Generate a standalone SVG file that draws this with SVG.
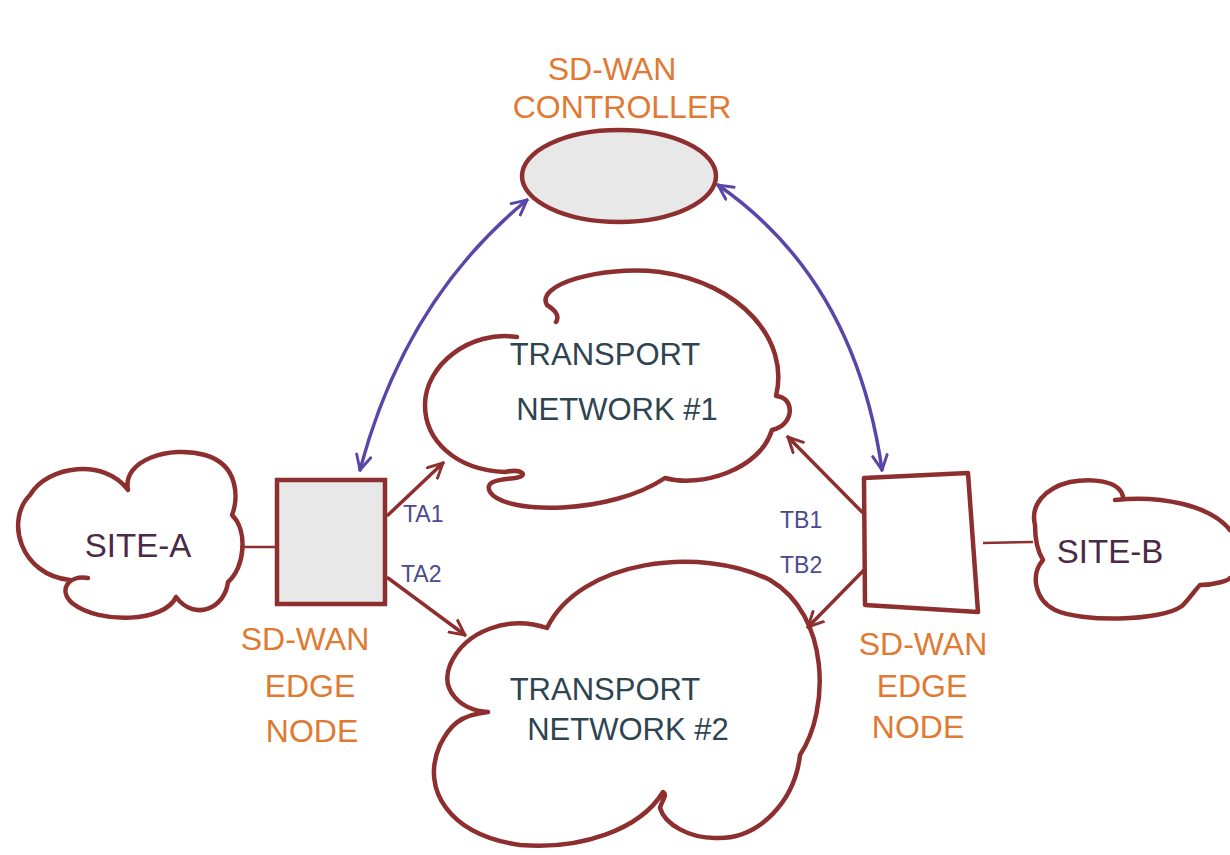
<svg xmlns="http://www.w3.org/2000/svg" width="1230" height="855" viewBox="0 0 1230 855">
<style>
.shape{fill:none;stroke:#8e2f2f;stroke-width:4.5;stroke-linecap:round;stroke-linejoin:round}
.red{fill:none;stroke:#8e2f2f;stroke-width:3.5;stroke-linecap:round}
.thin{fill:none;stroke:#8e2f2f;stroke-width:2.5}
.blue{fill:none;stroke:#5a45a8;stroke-width:3.5;stroke-linecap:round}
.orange{font-family:"Liberation Sans",sans-serif;font-size:32px;fill:#e07a33;text-anchor:middle}
.net{font-family:"Liberation Sans",sans-serif;font-size:31px;fill:#2e4450;text-anchor:middle}
.site{font-family:"Liberation Sans",sans-serif;font-size:33px;fill:#4a2a45;text-anchor:middle}
.lbl{font-family:"Liberation Sans",sans-serif;font-size:23px;fill:#4b4a8c}
</style>
<defs>
<marker id="ar" viewBox="0 0 12 12" refX="11" refY="6" markerWidth="5" markerHeight="5" orient="auto-start-reverse" markerUnits="strokeWidth">
<path d="M1,1 L11,6 L1,11" fill="none" stroke="#8e2f2f" stroke-width="2" stroke-linecap="round"/>
</marker>
<marker id="ab" viewBox="0 0 12 12" refX="11" refY="6" markerWidth="5" markerHeight="5" orient="auto-start-reverse" markerUnits="strokeWidth">
<path d="M1,1 L11,6 L1,11" fill="none" stroke="#5a45a8" stroke-width="2" stroke-linecap="round"/>
</marker>
</defs>
<rect width="1230" height="855" fill="#ffffff"/>

<g id="controller">
<text class="orange" x="612" y="80" font-size="38">SD-WAN</text>
<text class="orange" x="622" y="118" font-size="36">CONTROLLER</text>
<ellipse cx="619" cy="176" rx="97" ry="46" fill="#e8e8e8" stroke="#8e2f2f" stroke-width="4.5"/>
</g>

<g id="transport1">
<path class="shape" d="M517,337 C470,330 425,365 425,405 C425,440 455,470 505,472 C522,468 530,476 515,478 C495,480 485,482 490,492 C505,515 610,515 665,478 C700,488 760,470 772,430 C795,425 795,397 776,396 C790,340 740,283 660,272 C600,265 535,285 547,305 C555,310 560,316 556,322"/>
<text class="net" x="605" y="365">TRANSPORT</text>
<text class="net" x="617" y="420">NETWORK #1</text>
</g>

<g id="transport2">
<path class="shape" d="M547,628 C580,560 700,545 770,580 C830,615 830,710 800,755 C795,800 760,840 715,838 C690,838 665,825 660,808 C662,800 668,795 663,792 C640,830 580,850 520,845 C450,835 420,790 440,745 C450,725 460,715 488,712 C460,710 440,690 450,665 C465,630 510,615 547,628"/>
<text class="net" x="605" y="700">TRANSPORT</text>
<text class="net" x="628" y="740">NETWORK #2</text>
</g>

<g id="site-a">
<path class="shape" d="M70,580 C20,575 5,520 30,495 C48,465 105,458 128,490 C122,460 170,445 205,455 C240,465 238,500 232,515 C248,530 245,568 228,582 C225,608 195,622 176,597 C165,622 100,625 72,603 C58,590 68,575 88,578"/>
<text class="site" x="138" y="557">SITE-A</text>
</g>

<g id="edge-a">
<rect x="277" y="480" width="108" height="124" fill="#e8e8e8" stroke="#8e2f2f" stroke-width="4.5"/>
<text class="orange" x="305" y="650">SD-WAN</text>
<text class="orange" x="310" y="697">EDGE</text>
<text class="orange" x="312" y="742">NODE</text>
</g>

<g id="edge-b">
<path d="M864,478 L968,473 L978,612 L865,605 Z" fill="#ffffff" stroke="#8e2f2f" stroke-width="4.5" stroke-linejoin="round"/>
<text class="orange" x="923" y="655">SD-WAN</text>
<text class="orange" x="922" y="697">EDGE</text>
<text class="orange" x="918" y="738">NODE</text>
</g>

<g id="site-b">
<path class="shape" d="M1123,497 C1120,480 1090,478 1070,482 C1045,488 1030,505 1035,525 C1035,540 1038,552 1043,560 C1030,575 1035,600 1055,610 C1080,622 1160,622 1182,606 C1190,598 1195,590 1200,585 C1215,585 1230,580 1230,578"/>
<path class="shape" d="M1115,500 C1160,495 1210,505 1230,530"/>
<text class="site" x="1110" y="563">SITE-B</text>
</g>

<g id="connectors">
<path class="thin" d="M240,547 L277,547"/>
<path class="thin" d="M983,543 L1033,542"/>
<path class="red" d="M388,515 L443,463" marker-end="url(#ar)"/>
<path class="red" d="M388,578 L465,635" marker-end="url(#ar)"/>
<path class="red" d="M862,512 L788,437" marker-end="url(#ar)"/>
<path class="red" d="M864,570 L808,627" marker-end="url(#ar)"/>
<path class="blue" d="M527,200 Q405,300 360,470" marker-start="url(#ab)" marker-end="url(#ab)"/>
<path class="blue" d="M718,185 Q855,280 882,470" marker-start="url(#ab)" marker-end="url(#ab)"/>
<text class="lbl" x="403" y="522">TA1</text>
<text class="lbl" x="401" y="582">TA2</text>
<text class="lbl" x="780" y="528">TB1</text>
<text class="lbl" x="780" y="573">TB2</text>
</g>
</svg>
